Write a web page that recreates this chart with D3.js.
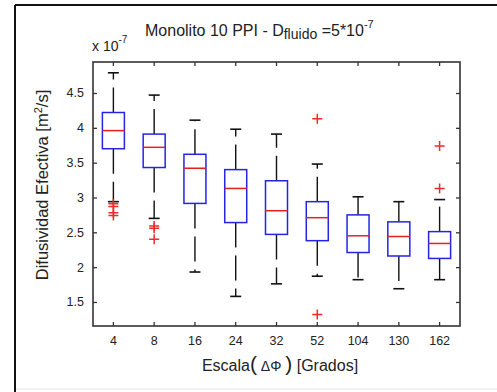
<!DOCTYPE html>
<html>
<head>
<meta charset="utf-8">
<script src="https://cdn.jsdelivr.net/npm/d3@7/dist/d3.min.js"></script>
<style>
  body { margin: 0; background: #fff; }
  svg text { font-family: "Liberation Sans", Arial, sans-serif; fill: #222; }
</style>
</head>
<body>
<div id="chart"></div>
<script>
// escala en grados
const categories = ['4', '8', '16', '24', '32', '52', '104', '130', '162'];
// valores en unidades de 1e-7 m2/s
const upperWhisker = [4.79, 4.47, 4.11, 3.98, 3.91, 3.48, 3.01, 2.94, 2.97];
const q3 = [4.22, 3.91, 3.62, 3.40, 3.24, 2.94, 2.75, 2.65, 2.51];
const median = [3.96, 3.72, 3.42, 3.13, 2.81, 2.71, 2.45, 2.44, 2.34];
const q1 = [3.70, 3.43, 2.915, 2.64, 2.47, 2.38, 2.21, 2.16, 2.125];
const lowerWhisker = [2.94, 2.70, 1.93, 1.58, 1.76, 1.87, 1.82, 1.69, 1.82];
const outliers = [
    [2.91, 2.87, 2.78, 2.74],
    [2.59, 2.56, 2.40],
    [], [], [],
    [4.13, 1.32],
    [], [],
    [3.74, 3.13]
];
const yTicks = [1.5, 2, 2.5, 3, 3.5, 4, 4.5];

const W = 497, H = 392;
const plot = { left: 93, top: 62, right: 460, bottom: 326 };

const svg = d3.select('#chart').append('svg')
    .attr('width', W)
    .attr('height', H);

// marco de la figura
svg.append('line').attr('x1', 15).attr('x2', 15).attr('y1', 5).attr('y2', H)
    .attr('stroke', '#111').attr('stroke-width', 2);
svg.append('line').attr('x1', 15).attr('x2', W).attr('y1', 5).attr('y2', 5)
    .attr('stroke', '#111').attr('stroke-width', 2);
svg.append('line').attr('x1', 16).attr('x2', W).attr('y1', 389).attr('y2', 389)
    .attr('stroke', '#e4e4e4').attr('stroke-width', 1);

const x = d3.scaleBand().domain(categories).range([plot.left, plot.right]).padding(0);
const y = d3.scaleLinear().domain([1.155, 4.945]).range([plot.bottom, plot.top]);
const cx = c => x(c) + x.bandwidth() / 2;

const boxW = 22, capW = 11;

const data = categories.map((c, i) => ({
    c, hi: upperWhisker[i], q3: q3[i], med: median[i], q1: q1[i], lo: lowerWhisker[i], out: outliers[i]
}));

const g = svg.append('g');

// bigotes
g.selectAll('.wh-up').data(data).join('line')
    .attr('x1', d => cx(d.c)).attr('x2', d => cx(d.c))
    .attr('y1', d => y(d.q3)).attr('y2', d => y(d.hi))
    .attr('stroke', '#111').attr('stroke-width', 1.4).attr('stroke-dasharray', '25,8');
g.selectAll('.wh-lo').data(data).join('line')
    .attr('x1', d => cx(d.c)).attr('x2', d => cx(d.c))
    .attr('y1', d => y(d.q1)).attr('y2', d => y(d.lo))
    .attr('stroke', '#111').attr('stroke-width', 1.4).attr('stroke-dasharray', '25,8');
g.selectAll('.cap-up').data(data).join('line')
    .attr('x1', d => cx(d.c) - capW / 2).attr('x2', d => cx(d.c) + capW / 2)
    .attr('y1', d => y(d.hi)).attr('y2', d => y(d.hi))
    .attr('stroke', '#111').attr('stroke-width', 1.6);
g.selectAll('.cap-lo').data(data).join('line')
    .attr('x1', d => cx(d.c) - capW / 2).attr('x2', d => cx(d.c) + capW / 2)
    .attr('y1', d => y(d.lo)).attr('y2', d => y(d.lo))
    .attr('stroke', '#111').attr('stroke-width', 1.6);

// cajas
g.selectAll('.box').data(data).join('rect')
    .attr('x', d => cx(d.c) - boxW / 2)
    .attr('y', d => y(d.q3))
    .attr('width', boxW)
    .attr('height', d => y(d.q1) - y(d.q3))
    .attr('fill', 'none').attr('stroke', '#2424e6').attr('stroke-width', 1.5);

// medianas
g.selectAll('.med').data(data).join('line')
    .attr('x1', d => cx(d.c) - boxW / 2).attr('x2', d => cx(d.c) + boxW / 2)
    .attr('y1', d => y(d.med)).attr('y2', d => y(d.med))
    .attr('stroke', '#e62020').attr('stroke-width', 1.5);

// atipicos
const outPts = data.flatMap(d => d.out.map(v => ({ c: d.c, v })));
g.selectAll('.out').data(outPts).join('path')
    .attr('d', d => `M${cx(d.c) - 5},${y(d.v)}h10M${cx(d.c)},${y(d.v) - 5}v10`)
    .attr('stroke', '#ee2a2a').attr('stroke-width', 1.5).attr('fill', 'none');

// ejes
const axisColor = '#333';
svg.append('g')
    .attr('transform', `translate(0,${plot.bottom})`)
    .call(d3.axisBottom(x).tickSize(-4).tickPadding(10))
    .call(a => a.select('.domain').remove());
svg.append('g')
    .attr('transform', `translate(0,${plot.top})`)
    .call(d3.axisTop(x).tickSize(-4).tickFormat(''))
    .call(a => a.select('.domain').remove());
svg.append('g')
    .attr('transform', `translate(${plot.left},0)`)
    .call(d3.axisLeft(y).tickValues(yTicks).tickSize(-4).tickPadding(9).tickFormat(d3.format('')))
    .call(a => a.select('.domain').remove());
svg.append('g')
    .attr('transform', `translate(${plot.right},0)`)
    .call(d3.axisRight(y).tickValues(yTicks).tickSize(-4).tickFormat(''))
    .call(a => a.select('.domain').remove());

svg.selectAll('.tick line').attr('stroke', axisColor).attr('stroke-width', 1.3);
svg.selectAll('.tick text').style('font-size', '12.5px').style('font-family', '"Liberation Sans", Arial, sans-serif').attr('fill', '#222');

svg.append('rect')
    .attr('x', plot.left).attr('y', plot.top)
    .attr('width', plot.right - plot.left).attr('height', plot.bottom - plot.top)
    .attr('fill', 'none').attr('stroke', axisColor).attr('stroke-width', 1.6);

// exponente del eje y
const ex = svg.append('text').attr('x', 92).attr('y', 51);
ex.append('tspan').text('x 10').style('font-size', '14px');
ex.append('tspan').attr('dy', -8).text('-7').style('font-size', '10px');

// titulo
const t = svg.append('text').attr('x', 145).attr('y', 36).style('font-size', '16px');
t.append('tspan').text('Monolito 10 PPI - D');
t.append('tspan').attr('dy', 3).style('font-size', '14px').text('fluido');
t.append('tspan').attr('dy', -3).text(' =5*10');
t.append('tspan').attr('dy', -8).style('font-size', '11px').text('-7');

// etiqueta eje x
const xl = svg.append('text').attr('x', 280).attr('y', 371)
    .attr('text-anchor', 'middle').style('font-size', '16px');
xl.append('tspan').text('Escala');
xl.append('tspan').style('font-size', '21px').text('(');
xl.append('tspan').style('font-size', '14px').text(' \u0394\u03A6 ');
xl.append('tspan').style('font-size', '21px').text(')');
xl.append('tspan').text('  [Grados]');

// etiqueta eje y
const yl = svg.append('text')
    .attr('transform', `translate(48,${(plot.top + plot.bottom) / 2 - 9}) rotate(-90)`)
    .attr('text-anchor', 'middle').style('font-size', '16.5px');
yl.append('tspan').text('Difusividad Efectiva [m');
yl.append('tspan').attr('dy', -6).style('font-size', '11px').text('2');
yl.append('tspan').attr('dy', 6).text('/s]');
</script>
</body>
</html>
